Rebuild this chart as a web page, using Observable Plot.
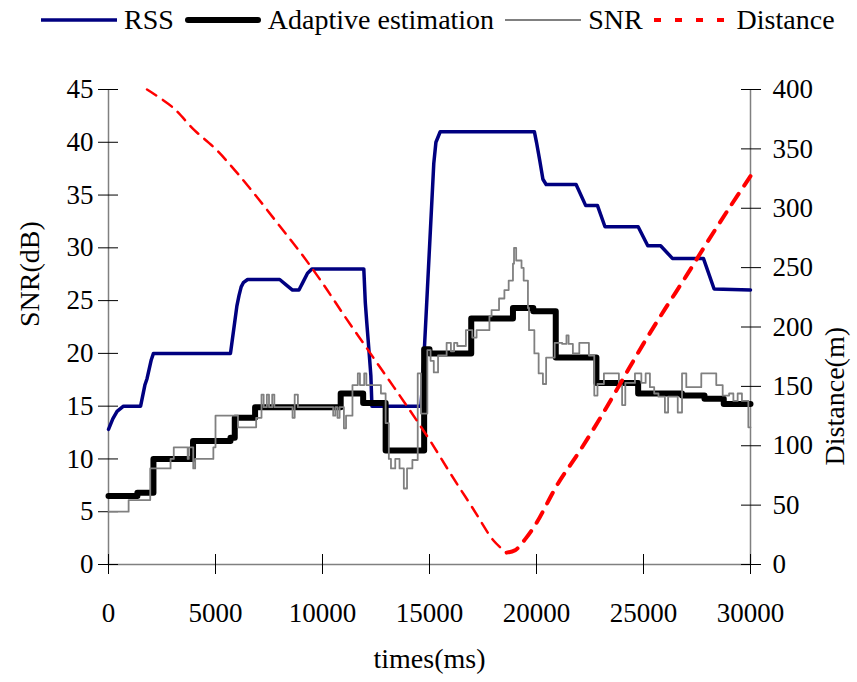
<!DOCTYPE html>
<html>
<head>
<meta charset="utf-8">
<script src="https://cdn.jsdelivr.net/npm/d3@7"></script>
<script src="https://cdn.jsdelivr.net/npm/@observablehq/plot@0.6"></script>
<style>
  html, body { margin: 0; padding: 0; background: #fff; }
  #legend { height: 40px; display: flex; align-items: center; padding-left: 41px;
            font-family: "Liberation Serif", "Times New Roman", serif; font-size: 28px; color: #000; }
  #legend svg { display: block; }
  #legend span { margin: 0 11px 0 7px; white-space: nowrap; }
</style>
</head>
<body>
<div id="legend"></div>
<div id="chart"></div>
<script>
// ---- data ----
const timeTicks = [0, 5000, 10000, 15000, 20000, 25000, 30000];
const snrTicks = [0, 5, 10, 15, 20, 25, 30, 35, 40, 45];
const distTicks = [0, 50, 100, 150, 200, 250, 300, 350, 400];

// RSS (dB)
const rssT = [0, 200, 400, 700, 1500, 1600, 1700, 1800, 1900, 2000, 2100, 5700, 5800, 5900, 6000, 6100, 6200, 6300, 6500,
  8000, 8300, 8600, 8900, 9100, 9300, 9500, 11930, 12000, 12070, 12170, 12260, 12310, 14600, 14700, 14800, 14900, 15000,
  15100, 15200, 15300, 15500, 19900, 20000, 20150, 20300, 20450, 21850, 22300, 22850, 23200, 24750, 25200, 25800, 26350,
  27800, 28300, 30000];
const rssV = [12.8, 13.8, 14.5, 15, 15, 16, 17, 17.6, 18.5, 19.4, 20, 20, 21.5, 23, 24.5, 25.5, 26.3, 26.7, 27,
  27, 26.5, 26, 26, 26.8, 27.6, 28, 28, 24.8, 22.9, 20.3, 17.9, 15, 15, 18, 22, 26, 30,
  34, 38, 40, 41, 41, 40, 38.3, 36.5, 36, 36, 34, 34, 32, 32, 30.2, 30.2, 29,
  29, 26.1, 26];

// Adaptive estimation (dB), step-after
const adaT = [0, 1350, 2100, 3950, 5700, 5900, 6850, 10850, 11900, 12950, 14750, 15000, 16950, 18900, 19850, 20900,
  22800, 24750, 26800, 27850, 28750, 30000];
const adaV = [6.5, 6.8, 10, 11.7, 12, 13.9, 14.9, 16.2, 15.3, 10.8, 20.4, 20, 23.3, 24.3, 24, 19.6,
  17.2, 16.2, 16, 15.7, 15.2, 15.2];

// SNR (dB), step-after
const snrT = [0, 940, 1950, 2900, 3050, 3700, 3750, 3960, 4050, 4900, 5000, 6050, 6900, 7150, 7250, 7400, 7500, 7650,
  7750, 8600, 8700, 8850, 10500, 10600, 10700, 10800, 11000, 11100, 11400, 11650, 11750, 11950, 12050, 12730, 12950,
  13100, 13200, 13400, 13600, 13800, 13950, 14200, 14450, 14600, 14900, 15050, 15200, 15400, 15800, 16000, 16150,
  16300, 16700, 17000, 17200, 17800, 17900, 18250, 18500, 18700, 18900, 18950, 19050, 19300, 19400, 19600, 19650,
  19900, 20100, 20300, 20450, 20850, 21200, 21400, 21500, 21700, 22000, 22450, 22700, 22850, 23150, 23850, 24000,
  24150, 24600, 24900, 25100, 25300, 25500, 25700, 26000, 26150, 26600, 26800, 27000, 27500, 27700, 28400, 28700,
  29000, 29200, 29400, 29600, 29900, 30000];
const snrV = [5.0, 6.1, 9.1, 10.0, 11.1, 10.0, 11.1, 9.1, 10.0, 11.1, 14.1, 13.0, 13.9, 16.1, 14.9, 16.1, 14.9, 16.1,
  14.9, 13.9, 16.1, 14.9, 14.1, 14.9, 13.9, 14.9, 12.9, 14.1, 17.0, 18.1, 17.0, 18.1, 17.0, 16.2, 13.4,
  10.0, 9.1, 10.0, 9.1, 7.2, 9.1, 9.9, 18.1, 14.3, 20.3, 19.3, 18.2, 19.8, 21.0, 20.2, 21.0,
  20.7, 22.2, 21.5, 22.2, 23.5, 24.1, 25.2, 26.0, 26.9, 28.5, 30.0, 28.8, 28.1, 26.9, 24.3, 22.2,
  20.0, 18.1, 17.1, 19.6, 21.0, 20.9, 21.7, 20.9, 20.0, 21.0, 19.8, 16.0, 17.1, 18.1, 17.0, 15.1,
  17.2, 18.1, 17.2, 18.1, 16.8, 16.2, 15.9, 14.4, 15.9, 14.4, 18.1, 16.8, 16.8, 18.1, 17.0, 16.0,
  16.2, 15.5, 16.2, 15.5, 13.0, 13.0];

// Distance (m)
const distT = [1800, 3000, 4000, 5000, 6000, 7000, 8000, 9000, 10000, 11000, 12000, 13000, 14000, 15000, 16000, 17000,
  18000, 18600, 19000, 19500, 20000, 21000, 22000, 23000, 24000, 25000, 26000, 27000, 28000, 29000, 30000];
const distV = [400, 385, 366, 350, 330, 308, 285, 262, 237, 210, 184, 158, 132, 105, 76, 48,
  20, 10, 12, 22, 35, 68, 95, 124, 155, 186, 215, 243, 272, 300, 327];

// ---- build ----
const rss = rssT.map((t, i) => ({t, v: rssV[i]}));
const ada = adaT.map((t, i) => ({t, v: adaV[i]}));
const snr = snrT.map((t, i) => ({t, v: snrV[i]}));
const dist = distT.map((t, i) => ({t, v: distV[i]}));
const tMin = distT[distV.indexOf(d3.min(distV))];
const distDown = dist.filter(d => d.t <= tMin);
const distUp = dist.filter(d => d.t >= tMin);
const k = 45 / 400;

const serif = "'Liberation Serif', 'Times New Roman', serif";

// legend
const legendItems = [
  {label: "RSS", stroke: "#000080", width: 3.5, dash: null, cap: "butt"},
  {label: "Adaptive estimation", stroke: "#000", width: 6, dash: null, cap: "round"},
  {label: "SNR", stroke: "#808080", width: 2, dash: null, cap: "butt"},
  {label: "Distance", stroke: "#ff0000", width: 4, dash: "7,14", cap: "butt"}
];
const lg = document.getElementById("legend");
for (const it of legendItems) {
  const ns = "http://www.w3.org/2000/svg";
  const s = document.createElementNS(ns, "svg");
  s.setAttribute("width", 76); s.setAttribute("height", 12);
  const l = document.createElementNS(ns, "line");
  l.setAttribute("x1", it.cap === "round" ? 3 : 0); l.setAttribute("x2", it.cap === "round" ? 73 : 76);
  l.setAttribute("y1", 6); l.setAttribute("y2", 6);
  l.setAttribute("stroke", it.stroke); l.setAttribute("stroke-width", it.width);
  l.setAttribute("stroke-linecap", it.cap);
  if (it.dash) l.setAttribute("stroke-dasharray", it.dash);
  s.appendChild(l);
  lg.appendChild(s);
  const sp = document.createElement("span");
  sp.textContent = it.label;
  lg.appendChild(sp);
}

const chart = Plot.plot({
  width: 857,
  height: 642,
  marginTop: 49,
  marginBottom: 118,
  marginLeft: 108,
  marginRight: 107,
  x: {domain: [0, 30000]},
  y: {domain: [0, 45]},
  style: {fontFamily: serif, fontSize: "27px", color: "#000", background: "#fff", overflow: "visible"},
  marks: [
    Plot.ruleX([0, 30000], {stroke: "#808080", strokeWidth: 1.5}),
    Plot.ruleY([0], {stroke: "#808080", strokeWidth: 1.5}),
    // left axis
    Plot.axisY(snrTicks, {anchor: "left", tickSize: 20, dx: 10, fill: "none", stroke: "#000", label: null}),
    Plot.axisY(snrTicks, {anchor: "left", tickSize: 0, tickPadding: 15, label: null, fontSize: 27}),
    // right axis (distance)
    Plot.axisY(distTicks.map(d => d * k), {anchor: "right", tickSize: 20, dx: -10, fill: "none", stroke: "#000", label: null}),
    Plot.axisY(distTicks.map(d => d * k), {anchor: "right", tickSize: 0, tickPadding: 22, label: null, fontSize: 27,
      tickFormat: d => String(Math.round(d / k))}),
    // bottom axis
    Plot.axisX(timeTicks, {anchor: "bottom", tickSize: 20, dy: -10, fill: "none", stroke: "#000", label: null}),
    Plot.axisX(timeTicks, {anchor: "bottom", tickSize: 0, tickPadding: 38, label: null, fontSize: 27, tickFormat: d => String(d)}),
    // titles
    Plot.text(["times(ms)"], {frameAnchor: "bottom", dy: 103, fontSize: 28, text: d => d}),
    Plot.text(["SNR(dB)"], {frameAnchor: "left", rotate: -90, dx: -78, fontSize: 28, text: d => d}),
    Plot.text(["Distance(m)"], {frameAnchor: "right", rotate: -90, dx: 85, fontSize: 28, text: d => d}),
    // series
    Plot.line(rss, {x: "t", y: "v", stroke: "#000080", strokeWidth: 3.5, strokeLinejoin: "round"}),
    Plot.line(ada, {x: "t", y: "v", curve: "step-after", stroke: "#000", strokeWidth: 6, strokeLinejoin: "round", strokeLinecap: "round"}),
    Plot.line(snr, {x: "t", y: "v", curve: "step-after", stroke: "#808080", strokeWidth: 1.8}),
    Plot.line(distDown, {x: "t", y: d => d.v * k, curve: "catmull-rom", stroke: "#ff0000", strokeWidth: 2.5, strokeDasharray: "11,8"}),
    Plot.line(distUp, {x: "t", y: d => d.v * k, curve: "catmull-rom", stroke: "#ff0000", strokeWidth: 4, strokeDasharray: "12,10"})
  ]
});
document.getElementById("chart").appendChild(chart);
</script>
</body>
</html>
